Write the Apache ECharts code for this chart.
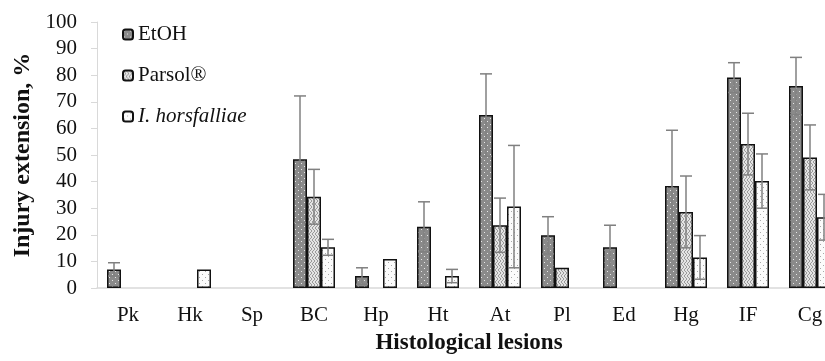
<!DOCTYPE html>
<html>
<head>
<meta charset="utf-8">
<title></title>
<script src="https://cdn.jsdelivr.net/npm/echarts@6/dist/echarts.min.js"></script>
<style>
	html, body { margin: 0; padding: 0; background: #fff; }
	#chart { width: 825px; height: 361px; }
</style>
</head>
<body>
<div id="chart"></div>
<script>
	var categories = ['Pk', 'Hk', 'Sp', 'BC', 'Hp', 'Ht', 'At', 'Pl', 'Ed', 'Hg', 'IF', 'Cg'];
	var seriesNames = ['EtOH', 'Parsol®', 'I. horsfalliae'];

	// mean values, %
	var etohMean   = [7.0, 0, 0, 48.4, 4.5, 23.0, 65.0, 19.8, 15.3, 38.3, 79.1, 75.9];
	var parsolMean = [0, 0, 0, 34.3, 0, 0, 23.6, 7.6, 0, 28.6, 54.1, 49.1];
	var ihMean     = [0, 7.0, 0, 15.3, 10.9, 4.5, 30.6, 0, 0, 11.5, 40.2, 26.6];

	// error (SD)
	var etohErr   = [2.5, 0, 0, 23.8, 3.1, 9.4, 15.5, 7.0, 8.3, 21.0, 5.6, 10.8];
	var parsolErr = [0, 0, 0, 10.3, 0, 0, 10.2, 0, 0, 13.5, 11.6, 12.2];
	var ihErr     = [0, 0, 0, 3.0, 0, 2.5, 23.0, 0, 0, 8.2, 10.2, 8.6];

	var means = [etohMean, parsolMean, ihMean];
	var errs = [etohErr, parsolErr, ihErr];

	// bar fill patterns
	function makePattern(kind) {
		var c = document.createElement('canvas');
		c.width = 6; c.height = 6;
		var g = c.getContext('2d');
		if (kind === 0) {
			g.fillStyle = '#8a8a8a'; g.fillRect(0, 0, 6, 6);
			g.fillStyle = '#e8e8e8';
			g.fillRect(1, 1, 1, 1); g.fillRect(4, 4, 1, 1);
		} else if (kind === 1) {
			g.fillStyle = '#e4e4e4'; g.fillRect(0, 0, 6, 6);
			g.strokeStyle = '#9a9a9a'; g.lineWidth = 1;
			g.beginPath();
			g.moveTo(0, 0); g.lineTo(3, 3); g.lineTo(0, 6);
			g.moveTo(3, 0); g.lineTo(6, 3); g.lineTo(3, 6);
			g.stroke();
		} else {
			g.fillStyle = '#fbfbfb'; g.fillRect(0, 0, 6, 6);
			g.fillStyle = '#a8a8a8';
			g.fillRect(1, 1, 1, 1); g.fillRect(4, 4, 1, 1);
		}
		return { image: c, repeat: 'repeat' };
	}

	var barW = 14;
	var series = [];
	for (var s = 0; s < 3; s++) {
		series.push({
			name: seriesNames[s],
			type: 'bar',
			barWidth: barW,
			barGap: '0%',
			itemStyle: { color: makePattern(s), borderColor: '#111', borderWidth: 1.5 },
			data: means[s].map(function (v) { return v === 0 ? '-' : v; })
		});
	}
	// error bars
	for (var s2 = 0; s2 < 3; s2++) {
		(function (k) {
			var d = [];
			for (var i = 0; i < categories.length; i++) {
				if (errs[k][i] > 0) d.push([i, means[k][i] - errs[k][i], means[k][i] + errs[k][i]]);
			}
			series.push({
				type: 'custom',
				silent: true,
				z: 5,
				data: d,
				encode: { x: 0, y: [1, 2] },
				renderItem: function (params, api) {
					var ci = api.value(0);
					var lo = api.coord([ci, api.value(1)]);
					var hi = api.coord([ci, api.value(2)]);
					var x = lo[0] + (k - 1) * barW;
					var cap = 6;
					var st = { stroke: '#808080', lineWidth: 1.5 };
					return {
						type: 'group',
						children: [
							{ type: 'line', shape: { x1: x, y1: lo[1], x2: x, y2: hi[1] }, style: st },
							{ type: 'line', shape: { x1: x - cap, y1: hi[1], x2: x + cap, y2: hi[1] }, style: st },
							{ type: 'line', shape: { x1: x - cap, y1: lo[1], x2: x + cap, y2: lo[1] }, style: st }
						]
					};
				}
			});
		})(s2);
	}

	var myChart = echarts.init(document.getElementById('chart'));
	myChart.setOption({
		animation: false,
		textStyle: { fontFamily: 'Liberation Serif' },
		grid: { left: 97, top: 22, width: 744, height: 266, outerBoundsMode: 'none', containLabel: false },
		legend: {
			orient: 'vertical',
			left: 117,
			top: 19,
			itemGap: 20,
			itemWidth: 10,
			itemHeight: 10,
			data: seriesNames,
			formatter: function (name) {
				return name === 'I. horsfalliae' ? '{i|' + name + '}' : name;
			},
			textStyle: {
				fontFamily: 'Liberation Serif', fontSize: 21, color: '#111',
				rich: { i: { fontFamily: 'Liberation Serif', fontSize: 21, fontStyle: 'italic', color: '#111' } }
			}
		},
		xAxis: {
			type: 'category',
			data: categories,
			name: 'Histological lesions',
			nameLocation: 'middle',
			nameGap: 44,
			nameTextStyle: { fontFamily: 'Liberation Serif', fontSize: 23, fontWeight: 'bold', color: '#111' },
			axisLine: { lineStyle: { color: '#d9d9d9', width: 1.5 } },
			axisTick: { show: false },
			axisLabel: { fontFamily: 'Liberation Serif', fontSize: 21, color: '#111', margin: 17 }
		},
		yAxis: {
			type: 'value',
			min: 0, max: 100, interval: 10,
			name: 'Injury extension, %',
			nameLocation: 'middle',
			nameGap: 62,
			nameTextStyle: { fontFamily: 'Liberation Serif', fontSize: 24, fontWeight: 'bold', color: '#111' },
			axisLine: { show: true, lineStyle: { color: '#d9d9d9', width: 1 } },
			axisTick: { show: true, length: 6, lineStyle: { color: '#d9d9d9' } },
			splitLine: { show: false },
			axisLabel: { fontFamily: 'Liberation Serif', fontSize: 21, color: '#111', margin: 20 }
		},
		series: series
	});
</script>
</body>
</html>
